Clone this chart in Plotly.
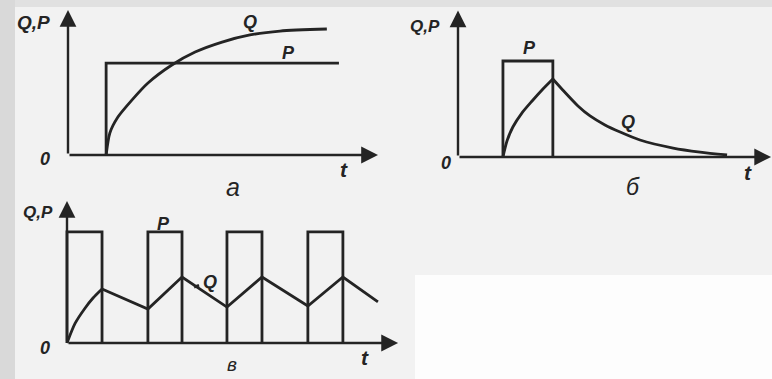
import plotly.graph_objects as go

# ---------------- data (t in time units, Q/P in value units) ----------------
# panel а: step input P and the saturating response Q
a_p_t = [1.23, 1.23, 8.74]
a_p_v = [0.0, 6.34, 6.34]
a_q_t = [1.23, 1.35, 1.61, 2.06, 2.58, 3.35, 4.10, 4.97, 5.87, 6.84, 8.35]
a_q_v = [0.0, 1.52, 2.62, 3.79, 4.97, 6.21, 7.10, 7.79, 8.28, 8.55, 8.69]

# panel б: single rectangular pulse P, Q rises then decays
b_p_t = [1.45, 1.45, 3.06, 3.06]
b_p_v = [0.0, 6.62, 6.62, 0.0]
b_rise_t = [1.45, 1.58, 1.77, 2.06, 2.39, 2.74, 3.06]
b_rise_v = [0.0, 1.10, 2.07, 3.03, 3.86, 4.69, 5.38]
b_fall_t = [3.06, 3.35, 3.87, 4.26, 4.74, 5.23, 5.87, 6.94, 7.81, 8.68]
b_fall_v = [5.38, 4.69, 3.52, 2.83, 2.21, 1.72, 1.17, 0.62, 0.34, 0.14]

# panel в: periodic pulses P, sawtooth-like response Q
c_pulse_start = [0.0, 2.61, 5.16, 7.77]
c_pulse_end = [1.13, 3.71, 6.29, 8.90]
c_p_level = 7.66
c_q_t = [0.0, 0.26, 0.58, 0.84, 1.13, 2.61, 3.71, 5.16, 6.29, 7.77, 8.90, 10.03]
c_q_v = [0.0, 1.35, 2.40, 3.10, 3.72, 2.34, 4.55, 2.48, 4.55, 2.55, 4.55, 2.83]

# axis extents (arrow tips) per panel: (t_max, v_max)
axis_tips = [(10.0, 10.0), (10.1, 10.1), (10.68, 9.8)]

INK = "#242424"
LW = 2.8
W, H = 772, 379


def px_dom(a, b, total, flip=False):
    if flip:
        return [1 - b / total, 1 - a / total]
    return [a / total, b / total]


fig = go.Figure()

# Each panel has its own axes; domains are in paper pixels, ranges in data units
panels = [
    dict(xd=(0, 390), yd=(0, 200), xr=(-68 / 31, (390 - 68) / 31), yr=(-(200 - 155) / 14.5, 155 / 14.5)),
    dict(xd=(390, 772), yd=(0, 200), xr=((390 - 458) / 31, (772 - 458) / 31), yr=(-(200 - 157) / 14.5, 157 / 14.5)),
    dict(xd=(0, 420), yd=(200, 379), xr=(-67 / 31, (420 - 67) / 31), yr=(-(379 - 343) / 14.5, (343 - 200) / 14.5)),
]

layout_axes = {}
for i, p in enumerate(panels):
    sfx = "" if i == 0 else str(i + 1)
    layout_axes["xaxis" + sfx] = dict(domain=px_dom(*p["xd"], W), range=list(p["xr"]), visible=False,
                                      anchor="y" + sfx, fixedrange=True)
    layout_axes["yaxis" + sfx] = dict(domain=px_dom(*p["yd"], H, flip=True), range=list(p["yr"]), visible=False,
                                      anchor="x" + sfx, fixedrange=True)


def line(xs, ys, i, shape="linear", smoothing=0.8):
    sfx = "" if i == 0 else str(i + 1)
    ln = dict(color=INK, width=LW, shape=shape)
    if shape == "spline":
        ln["smoothing"] = smoothing
    fig.add_trace(go.Scatter(x=xs, y=ys, mode="lines", xaxis="x" + sfx, yaxis="y" + sfx,
                             line=ln, hoverinfo="skip", showlegend=False))


# panel а
line(a_p_t, a_p_v, 0)
line(a_q_t, a_q_v, 0, "spline", 0.7)
# panel б
line(b_p_t, b_p_v, 1)
line(b_rise_t, b_rise_v, 1, "spline", 0.7)
line(b_fall_t, b_fall_v, 1, "spline", 0.7)
# panel в: pulses
for s, e in zip(c_pulse_start, c_pulse_end):
    line([s, s, e, e], [0, c_p_level, c_p_level, 0], 2)
line(c_q_t[:5], c_q_v[:5], 2, "spline", 0.7)
line(c_q_t[4:], c_q_v[4:], 2)
# leader tick next to the Q label in panel в
line([4.10, 4.26], [3.85, 3.98], 2)

annotations = []
# axes with arrowheads
for i, (tm, vm) in enumerate(axis_tips):
    sfx = "" if i == 0 else str(i + 1)
    for hx, hy in [(tm, 0), (0, vm)]:
        annotations.append(dict(x=hx, y=hy, ax=0, ay=0, xref="x" + sfx, yref="y" + sfx,
                                axref="x" + sfx, ayref="y" + sfx, text="", showarrow=True,
                                arrowhead=2, arrowsize=1.4, arrowwidth=2.4, arrowcolor=INK,
                                standoff=0, startstandoff=0))

FONT = "Liberation Sans"


def label(txt, x, y, i, size=16, bold=True, italic=True):
    sfx = "" if i == 0 else str(i + 1)
    annotations.append(dict(x=x, y=y, xref="x" + sfx, yref="y" + sfx, text=txt, showarrow=False,
                            font=dict(family=FONT, size=size, color=INK,
                                      weight="bold" if bold else "normal",
                                      style="italic" if italic else "normal")))


# panel а labels
label("Q,P", -1.12, 9.17, 0, size=19)
label("Q", 5.87, 9.17, 0, size=18)
label("P", 7.1, 7.03, 0, size=18)
label("0", -0.74, -0.28, 0, size=18)
label("t", 8.9, -1.03, 0, size=21)
label("а", 5.32, -2.2, 0, size=25, bold=False)
# panel б labels
label("Q,P", -1.06, 8.97, 1, size=17)
label("P", 2.32, 7.52, 1, size=18)
label("Q", 5.48, 2.41, 1, size=18)
label("0", -0.39, -0.41, 1, size=18)
label("t", 9.35, -1.1, 1, size=21)
label("б", 5.65, -2.1, 1, size=23, bold=False)
# panel в labels
label("Q,P", -0.94, 8.97, 2, size=17)
label("P", 3.1, 8.2, 2, size=18)
label("Q", 4.61, 4.2, 2, size=18)
label("0", -0.71, -0.34, 2, size=18)
label("t", 9.61, -0.97, 2, size=21)
label("в", 5.32, -1.5, 2, size=19, bold=False)

# page tones: grey binding strip, top strip and the blank lower-right area
shapes = [
    dict(type="rect", xref="paper", yref="paper", x0=0, x1=15 / W, y0=0, y1=1,
         fillcolor="#d9d9d9", line_width=0, layer="below"),
    dict(type="rect", xref="paper", yref="paper", x0=15 / W, x1=1, y0=1 - 7 / H, y1=1,
         fillcolor="#e1e1e1", line_width=0, layer="below"),
    dict(type="rect", xref="paper", yref="paper", x0=415 / W, x1=1, y0=0, y1=1 - 275 / H,
         fillcolor="#fdfdfd", line_width=0, layer="below"),
]

fig.update_layout(
    width=W, height=H, margin=dict(l=0, r=0, t=0, b=0),
    paper_bgcolor="#f2f2f2", plot_bgcolor="rgba(0,0,0,0)",
    annotations=annotations, shapes=shapes, showlegend=False,
    **layout_axes,
)

fig.write_html("out.html", config={"displayModeBar": False})
